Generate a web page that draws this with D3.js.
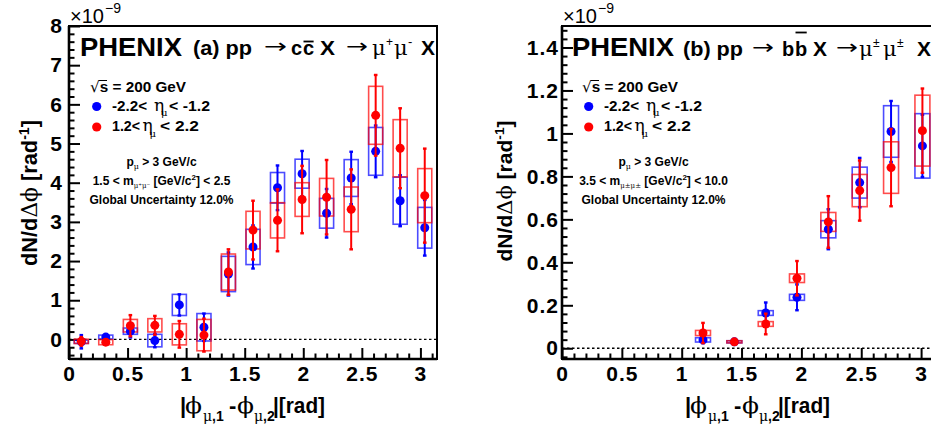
<!DOCTYPE html>
<html><head><meta charset="utf-8">
<script src="https://cdn.jsdelivr.net/npm/d3@7"></script>
<style>
body{margin:0;background:#fff}
svg{display:block}
text{font-family:"Liberation Sans",Arial,Helvetica,sans-serif}
</style>
</head><body>
<svg id="c" width="931" height="432"></svg>
<script>
// ---------------- DATA ----------------
const xTickValues = [0, 0.5, 1, 1.5, 2, 2.5, 3];
const xTickLabels = ["0", "0.5", "1", "1.5", "2", "2.5", "3"];
const ccYTickValues = [0, 1, 2, 3, 4, 5, 6, 7, 8];
const ccYTickLabels = ["0", "1", "2", "3", "4", "5", "6", "7", "8"];
const bbYTickValues = [0, 0.2, 0.4, 0.6, 0.8, 1.0, 1.2, 1.4];
const bbYTickLabels = ["0", "0.2", "0.4", "0.6", "0.8", "1", "1.2", "1.4"];

// (a) pp -> c cbar X -> mu+ mu- X   (units of 1e-9 rad^-1)
const ccDphi      = [0.105, 0.314, 0.524, 0.733, 0.942, 1.152, 1.361, 1.571, 1.780, 1.990, 2.199, 2.409, 2.618, 2.827, 3.037];
const ccSouth     = [-0.06, 0.06, 0.21, -0.03, 0.88, 0.31, 1.67, 2.36, 3.87, 4.23, 3.22, 4.12, 4.80, 3.54, 2.85];
const ccSouthStat = [0.17, 0.07, 0.16, 0.17, 0.27, 0.35, 0.55, 0.55, 0.57, 0.58, 0.62, 0.67, 0.66, 0.65, 0.71];
const ccSouthSys  = [0.04, 0.05, 0.08, 0.16, 0.27, 0.35, 0.45, 0.45, 0.39, 0.37, 0.38, 0.47, 0.61, 0.60, 0.52];
const ccNorth     = [-0.05, -0.07, 0.35, 0.36, 0.13, 0.11, 1.72, 2.79, 3.04, 3.57, 3.63, 3.32, 5.72, 4.88, 3.67];
const ccNorthStat = [0.11, 0.05, 0.27, 0.24, 0.34, 0.42, 0.58, 0.75, 0.79, 0.86, 0.95, 1.02, 1.03, 1.02, 1.20];
const ccNorthSys  = [0.055, 0.065, 0.16, 0.17, 0.27, 0.40, 0.46, 0.48, 0.45, 0.43, 0.48, 0.57, 0.74, 0.73, 0.69];

// (b) pp -> b bbar X -> mu± mu± X   (units of 1e-9 rad^-1)
const bbDphi      = [1.178, 1.440, 1.702, 1.963, 2.225, 2.487, 2.749, 3.011];
const bbSouth     = [0.039, 0.030, 0.164, 0.237, 0.554, 0.771, 1.009, 0.942];
const bbSouthStat = [0.015, 0.010, 0.049, 0.060, 0.093, 0.115, 0.142, 0.145];
const bbSouthSys  = [0.010, 0.005, 0.011, 0.014, 0.040, 0.072, 0.120, 0.150];
const bbNorth     = [0.071, 0.030, 0.113, 0.326, 0.588, 0.734, 0.841, 1.013];
const bbNorthStat = [0.047, 0.012, 0.048, 0.080, 0.120, 0.140, 0.180, 0.196];
const bbNorthSys  = [0.012, 0.005, 0.011, 0.020, 0.044, 0.075, 0.120, 0.165];

const legendSouth = "-2.2<";
const legendSouthEnd = "< -1.2";
const legendNorth = "1.2<";
const legendNorthEnd = "< 2.2";

// ---------------- DRAW ----------------
const svg = d3.select("#c");
const BLUE = "#0000ff", RED = "#ff0000";
const SERIF = "'DejaVu Serif','Liberation Serif',serif";
const SYM = "'DejaVu Sans',sans-serif";

function txt(g, x, y, s, o = {}) {
  const t = g.append("text").attr("x", x).attr("y", y).text(s)
    .attr("font-size", o.size || 20)
    .attr("font-weight", o.weight || "bold")
    .attr("fill", o.fill || "#000");
  if (o.family) t.style("font-family", o.family);
  if (o.anchor) t.attr("text-anchor", o.anchor);
  if (o.len) t.attr("textLength", o.len).attr("lengthAdjust", "spacingAndGlyphs");
  return t;
}

function panel(cfg) {
  const g = svg.append("g");
  const x = d3.scaleLinear().domain([0, Math.PI]).range([cfg.x0, cfg.x1]);
  const y = d3.scaleLinear().domain(cfg.yDomain).range([359, 26]);

  // dotted zero line
  g.append("line").attr("x1", x(0)).attr("x2", x(Math.PI)).attr("y1", y(0)).attr("y2", y(0))
    .attr("stroke", "#000").attr("stroke-width", 1.3).attr("stroke-dasharray", "2.5,2.5");

  // axes
  const ax = g.append("g").attr("transform", `translate(0,${y.range()[0]})`)
    .call(d3.axisBottom(x).tickValues(xTickValues).tickFormat((d, i) => xTickLabels[i]).tickSize(-11).tickPadding(7));
  const axm = g.append("g").attr("transform", `translate(0,${y.range()[0]})`)
    .call(d3.axisBottom(x).tickValues(d3.range(1, 32).map(i => i / 10).filter(v => Math.abs(v * 2 - Math.round(v * 2)) > 1e-6)).tickFormat("").tickSize(-5.5));
  const ay = g.append("g").attr("transform", `translate(${cfg.x0},0)`)
    .call(d3.axisLeft(y).tickValues(cfg.yTicks).tickFormat((d, i) => cfg.yLabels[i]).tickSize(-11).tickPadding(cfg.yPad));
  const aym = g.append("g").attr("transform", `translate(${cfg.x0},0)`)
    .call(d3.axisLeft(y).tickValues(cfg.yMinor).tickFormat("").tickSize(-5.5));
  [ax, axm, ay, aym].forEach(a => {
    a.select(".domain").remove();
    a.selectAll("line").attr("stroke", "#000").attr("stroke-width", 2);
    a.selectAll("text").attr("font-size", 21).attr("font-weight", "bold")
      .style("font-family", "'Liberation Sans',Arial,sans-serif").attr("fill", "#000")
      .attr("letter-spacing", 1);
  });

  // frame
  g.append("rect").attr("x", x(0)).attr("y", 26).attr("width", x(Math.PI) - x(0)).attr("height", 333)
    .attr("fill", "none").attr("stroke", "#000").attr("stroke-width", 2);
  g.append("line").attr("x1", x(0)).attr("x2", x(Math.PI)).attr("y1", 359).attr("y2", 359).attr("stroke", "#000").attr("stroke-width", 2.6);
  g.append("line").attr("x1", x(0)).attr("x2", x(0)).attr("y1", 26).attr("y2", 359).attr("stroke", "#000").attr("stroke-width", 2.6);

  // series
  function series(xv, vals, stat, sys, color) {
    const d = xv.map((xx, i) => ({ x: xx, v: vals[i], s: stat[i], b: sys[i] }));
    const sg = g.append("g");
    sg.selectAll(null).data(d).join("rect")
      .attr("x", e => x(e.x - cfg.boxHalf)).attr("width", e => x(e.x + cfg.boxHalf) - x(e.x - cfg.boxHalf))
      .attr("y", e => y(e.v + e.b)).attr("height", e => Math.max(y(e.v - e.b) - y(e.v + e.b), 1.5))
      .attr("fill", "none").attr("stroke", color).attr("stroke-opacity", 0.7).attr("stroke-width", 1.6);
    return () => {
      const pg = g.append("g");
      pg.selectAll(null).data(d).join("line")
        .attr("x1", e => x(e.x)).attr("x2", e => x(e.x))
        .attr("y1", e => y(e.v + e.s)).attr("y2", e => y(e.v - e.s))
        .attr("stroke", color).attr("stroke-width", 2);
      pg.selectAll(null).data(d.flatMap(e => [e.v + e.s, e.v - e.s].map(v => ({ x: e.x, v })))).join("line")
        .attr("x1", e => x(e.x) - 1.8).attr("x2", e => x(e.x) + 1.8)
        .attr("y1", e => y(e.v)).attr("y2", e => y(e.v))
        .attr("stroke", color).attr("stroke-width", 2.4);
      pg.selectAll(null).data(d).join("circle")
        .attr("cx", e => x(e.x)).attr("cy", e => y(e.v)).attr("r", 4.5).attr("fill", color);
    };
  }
  const pS = series(cfg.xv, cfg.south, cfg.southStat, cfg.southSys, BLUE);
  const pN = series(cfg.xv, cfg.north, cfg.northStat, cfg.northSys, RED);
  pS(); pN();

  // x10^-9
  txt(g, x(0) + 1, 23, "\u00d710", { size: 20, weight: "normal", len: 34 });
  txt(g, x(0) + 36, 13, "\u22129", { size: 14, weight: "normal", len: 16 });

  // y title
  const yt = g.append("text").attr("transform", `translate(${cfg.ytX},${cfg.ytY}) rotate(-90)`)
    .attr("text-anchor", "middle").attr("font-size", cfg.ytSize).attr("font-weight", "bold")
    .attr("textLength", cfg.ytLen).attr("lengthAdjust", "spacingAndGlyphs");
  yt.append("tspan").text("dN/d");
  yt.append("tspan").style("font-family", SERIF).attr("font-weight", "normal").text("\u0394\u03d5");
  yt.append("tspan").text(" [rad");
  yt.append("tspan").attr("font-size", cfg.ytSize * 0.65).attr("dy", -8).text("-1");
  yt.append("tspan").attr("dy", 8).text("]");

  // x title
  const xt0 = cfg.xtX, xb = 413;
  txt(g, xt0, xb, "|", { size: 22 });
  txt(g, xt0 + 5, xb, "\u03d5", { size: 23, weight: "normal", family: SERIF, len: 17 });
  let s1 = txt(g, xt0 + 23, xb + 8, "", { size: 14 });
  s1.append("tspan").style("font-family", SERIF).attr("font-weight", "normal").text("\u03bc");
  s1.append("tspan").text(",1");
  txt(g, xt0 + 49, xb, "-", { size: 22 });
  txt(g, xt0 + 57, xb, "\u03d5", { size: 23, weight: "normal", family: SERIF, len: 17 });
  let s2 = txt(g, xt0 + 74, xb + 8, "", { size: 14 });
  s2.append("tspan").style("font-family", SERIF).attr("font-weight", "normal").text("\u03bc");
  s2.append("tspan").text(",2");
  txt(g, xt0 + 93, xb, "|[rad]", { size: 22, len: 52 });

  // PHENIX
  txt(g, cfg.lx + 80, 56, "PHENIX", { size: 26, len: 102 });

  // legend block
  const L = g.append("g").attr("transform", `translate(${cfg.lx},0)`);
  const sq = txt(L, 90, 92, "", { size: 15, len: 96 });
  sq.append("tspan").style("font-family", SYM).attr("font-weight", "normal").text("\u221a");
  sq.append("tspan").text("s = 200 GeV");
  L.append("line").attr("x1", 99).attr("x2", 107).attr("y1", 80.5).attr("y2", 80.5).attr("stroke", "#000").attr("stroke-width", 1);
  L.append("circle").attr("cx", 96.7).attr("cy", 106.5).attr("r", 4.6).attr("fill", BLUE);
  L.append("circle").attr("cx", 96.7).attr("cy", 127).attr("r", 4.6).attr("fill", RED);
  txt(L, 112, 110.5, legendSouth, { size: 15, len: 35 });
  txt(L, 154, 110.5, "\u03b7", { size: 17, weight: "normal", family: SERIF });
  txt(L, 161, 116, "\u03bc", { size: 10, weight: "normal", family: SERIF });
  txt(L, 169, 110.5, legendSouthEnd, { size: 15, len: 41 });
  txt(L, 112, 131, legendNorth, { size: 15, len: 28 });
  txt(L, 142.5, 131, "\u03b7", { size: 17, weight: "normal", family: SERIF });
  txt(L, 149.5, 136.5, "\u03bc", { size: 10, weight: "normal", family: SERIF });
  txt(L, 160, 131, legendNorthEnd, { size: 15, len: 39 });

  // small text block
  const c = cfg.cx;
  const t1 = txt(L, c, 166, "", { size: 12, anchor: "middle" });
  t1.append("tspan").text("p");
  t1.append("tspan").style("font-family", SERIF).attr("font-weight", "normal").attr("font-size", 8).attr("dy", 3).text("\u03bc");
  t1.append("tspan").attr("dy", -3).text(" > 3 GeV/c");
  const t2 = txt(L, c, 185, "", { size: 12, anchor: "middle" });
  t2.append("tspan").text(cfg.massLo + " < m");
  t2.append("tspan").style("font-family", SERIF).attr("font-weight", "normal").attr("font-size", 7).attr("dy", 3).text(cfg.massSub);
  t2.append("tspan").attr("dy", -3).text(" [GeV/c");
  t2.append("tspan").attr("font-size", 8).attr("dy", -5).text("2");
  t2.append("tspan").attr("dy", 5).text("] < " + cfg.massHi);
  txt(L, c, 204, "Global Uncertainty 12.0%", { size: 12, anchor: "middle", len: 144 });

  return g;
}

const gA = panel({
  x0: 69, x1: 437, yDomain: [-0.5, 8], yTicks: ccYTickValues, yLabels: ccYTickLabels, yPad: 6,
  yMinor: d3.range(-2, 40).map(i => i / 5).filter(v => Math.abs(v - Math.round(v)) > 1e-6),
  xv: ccDphi, south: ccSouth, southStat: ccSouthStat, southSys: ccSouthSys,
  north: ccNorth, northStat: ccNorthStat, northSys: ccNorthSys, boxHalf: 0.06,
  ytX: 37, ytY: 193, ytSize: 22, ytLen: 146, xtX: 180, lx: 0, cx: 161.5,
  massLo: "1.5", massHi: "2.5", massSub: "\u03bc\u207a\u03bc\u207b"
});
const gB = panel({
  x0: 562, x1: 562 + 119.7 * Math.PI, yDomain: [-0.05, 1.5], yTicks: bbYTickValues, yLabels: bbYTickLabels, yPad: 3,
  yMinor: d3.range(-1, 38).map(i => i / 25).filter(v => Math.abs(v * 5 - Math.round(v * 5)) > 1e-6),
  xv: bbDphi, south: bbSouth, southStat: bbSouthStat, southSys: bbSouthSys,
  north: bbNorth, northStat: bbNorthStat, northSys: bbNorthSys, boxHalf: 0.0625,
  ytX: 512, ytY: 191, ytSize: 21, ytLen: 141, xtX: 685, lx: 492, cx: 161.5,
  massLo: "3.5", massHi: "10.0", massSub: "\u03bc\u00b1\u03bc\u00b1"
});

// panel titles
function arrow(g, x, y, len) { return txt(g, x, y, "\u2192", { size: 20, weight: "normal", family: SYM, len }); }
function bar(g, t, dyTop) {
  const b = t.node().getBBox();
  g.append("line").attr("x1", b.x + 0.5).attr("x2", b.x + b.width - 0.5).attr("y1", dyTop).attr("y2", dyTop)
    .attr("stroke", "#000").attr("stroke-width", 1.8);
}
// (a)
txt(gA, 193, 55, "(a) pp", { size: 20, len: 59 });
arrow(gA, 264, 53, 23);
txt(gA, 291, 55, "c", { size: 20 });
bar(gA, txt(gA, 303, 55, "c", { size: 20 }), 41.5);
txt(gA, 320, 55, "X", { size: 20, len: 15 });
arrow(gA, 346, 53, 22);
txt(gA, 372, 55, "\u03bc", { size: 21, weight: "normal", family: SERIF });
txt(gA, 386, 46, "+", { size: 12, weight: "normal" });
txt(gA, 394, 55, "\u03bc", { size: 21, weight: "normal", family: SERIF });
txt(gA, 408, 46, "-", { size: 13, weight: "normal" });
txt(gA, 421, 55, "X", { size: 20, len: 14 });
// (b)
txt(gB, 683, 56, "(b) pp", { size: 20, len: 60 });
arrow(gB, 752, 54, 22);
txt(gB, 782, 56, "b", { size: 20 });
bar(gB, txt(gB, 795, 56, "b", { size: 20 }), 32.5);
txt(gB, 813, 56, "X", { size: 20, len: 14 });
arrow(gB, 836, 54, 22);
txt(gB, 859, 56, "\u03bc", { size: 21, weight: "normal", family: SERIF });
txt(gB, 873, 47, "\u00b1", { size: 12, weight: "normal" });
txt(gB, 883, 56, "\u03bc", { size: 21, weight: "normal", family: SERIF });
txt(gB, 897, 47, "\u00b1", { size: 12, weight: "normal" });
txt(gB, 917, 56, "X", { size: 20, len: 14 });
</script>
</body></html>
